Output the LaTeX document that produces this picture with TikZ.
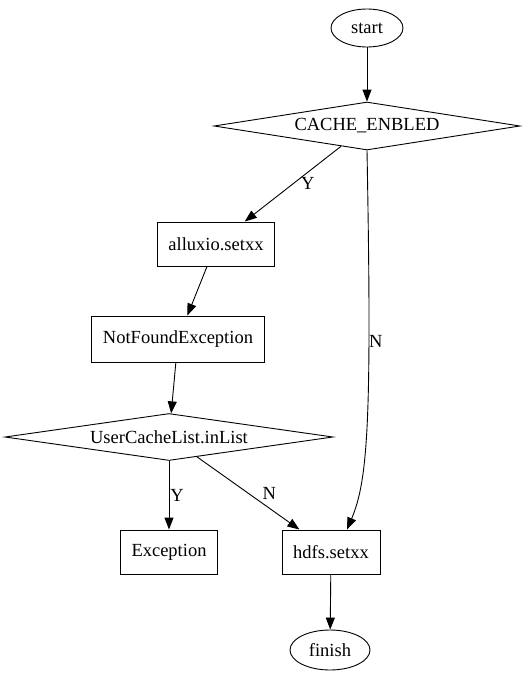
\documentclass[tikz,border=0pt]{standalone}
\usepackage{fontspec}
\setmainfont{Liberation Serif}
\usetikzlibrary{arrows.meta, shapes.geometric}

\begin{document}
\begin{tikzpicture}[
  x=1pt, y=-1pt,
  font=\fontsize{18.5}{21}\selectfont,
  line width=0.9pt,
  term/.style={draw, ellipse, inner sep=0pt, minimum height=38pt},
  box/.style={draw, rectangle, inner xsep=4pt, minimum height=44pt},
  dec/.style={draw, diamond, inner sep=0pt, aspect=6.5, minimum height=48pt},
  lbl/.style={inner sep=0pt},
  arr/.style={-{Triangle[length=12pt, width=9pt]}}
]
\useasboundingbox (0,0) rectangle (525,680);
\node[term, minimum width=72pt] (start) at (367,28) {start};
\node[dec, minimum width=306pt] (cache) at (367,126) {CACHE\_ENBLED};
\node[box, minimum width=117pt] (alluxio) at (216,244) {alluxio.setxx};
\node[box, minimum width=173pt, minimum height=46pt] (notfound) at (178,339) {NotFoundException};
\node[dec, minimum width=328pt, minimum height=47pt] (inlist) at (169,437) {UserCacheList.inList};
\node[box, minimum width=97pt] (exc) at (169,552) {Exception};
\node[box, minimum width=98pt] (hdfs) at (331,552) {hdfs.setxx};
\node[term, minimum width=80pt, minimum height=40pt] (finish) at (330,650) {finish};

\draw[arr] (start) -- (cache);
\draw[arr] (cache) -- node[lbl, xshift=15pt] {Y} (alluxio);
\draw[arr] (cache.south) .. controls (372,420) and (368,480) .. node[lbl, pos=0.3, xshift=7pt] {N} ([xshift=16pt]hdfs.north);
\draw[arr] (alluxio) -- (notfound);
\draw[arr] (notfound) -- (inlist);
\draw[arr] (inlist) -- node[lbl, xshift=8pt] {Y} (exc);
\draw[arr] (inlist) -- node[lbl, xshift=21pt] {N} (hdfs);
\draw[arr] (hdfs) -- (finish);
\end{tikzpicture}
\end{document}
